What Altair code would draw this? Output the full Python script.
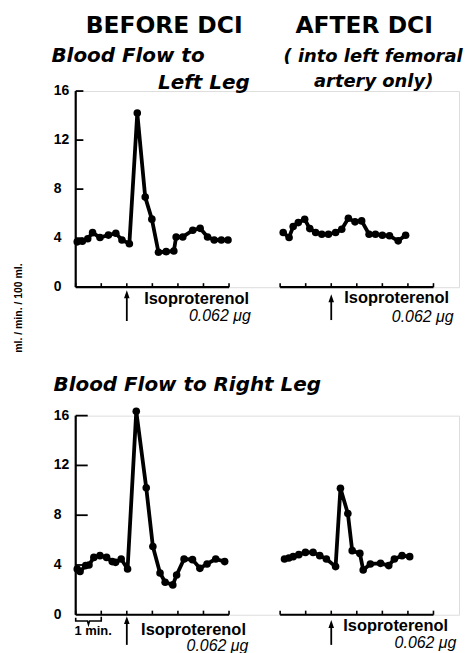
import altair as alt
import pandas as pd

# ---------------- data ----------------
# time in minutes from the start of each 6-minute record; flow in ml/min/100 ml
before_left_t = [0.06, 0.26, 0.47, 0.66, 0.95, 1.28, 1.57, 1.81, 2.10, 2.41, 2.72, 2.98,
                 3.24, 3.54, 3.84, 3.93, 4.19, 4.58, 4.87, 5.16, 5.42, 5.70, 5.96]
before_left_v = [3.70, 3.75, 3.95, 4.45, 4.05, 4.25, 4.40, 3.85, 3.55, 14.2, 7.35, 5.55,
                 2.85, 2.90, 2.95, 4.10, 4.10, 4.65, 4.80, 4.10, 3.85, 3.85, 3.85]
after_left_t = [0.12, 0.35, 0.51, 0.71, 0.96, 1.16, 1.39, 1.63, 1.89, 2.17, 2.41, 2.67,
                2.93, 3.19, 3.48, 3.73, 4.00, 4.28, 4.62, 4.91]
after_left_v = [4.46, 4.06, 4.95, 5.27, 5.54, 4.78, 4.46, 4.32, 4.32, 4.46, 4.73, 5.62,
                5.33, 5.41, 4.32, 4.32, 4.24, 4.19, 3.78, 4.24]
before_right_t = [0.06, 0.17, 0.39, 0.52, 0.71, 0.95, 1.21, 1.43, 1.56, 1.78, 2.03, 2.37,
                  2.76, 3.02, 3.30, 3.50, 3.80, 3.95, 4.24, 4.57, 4.86, 5.14, 5.48, 5.83]
before_right_v = [3.68, 3.47, 3.95, 4.00, 4.61, 4.75, 4.61, 4.27, 4.21, 4.48, 3.68, 16.35,
                  10.21, 5.49, 3.36, 2.61, 2.40, 3.20, 4.48, 4.43, 3.73, 4.08, 4.48, 4.27]
after_right_t = [0.17, 0.34, 0.51, 0.73, 0.99, 1.29, 1.55, 1.81, 2.17, 2.36, 2.65, 2.82,
                 3.12, 3.25, 3.53, 3.93, 4.25, 4.47, 4.77, 5.07]
after_right_v = [4.48, 4.56, 4.67, 4.83, 5.01, 5.01, 4.75, 4.48, 3.87, 10.16, 8.13, 5.15,
                 4.93, 3.60, 4.08, 4.13, 3.95, 4.48, 4.75, 4.67]

minute_ticks = [0, 1, 2, 3, 4, 5, 6]
y_tick_values = [0, 4, 8, 12, 16]
y_inner_ticks = [4, 8, 12, 16]
injection_minute = 2
y_title = "ml. / min. / 100 ml."
dose_label = "0.062 \u03bcg"
drug_label = "Isoproterenol"

# ---------------- layout constants ----------------
AFTER_OFFSET = 8          # the "after" record sits 8 min to the right on a shared x scale
X_DOMAIN = [0, 15]
W = 385
H_TOP = 197
H_BOT = 200
BOLD = "Liberation Sans"
HEAD = "DejaVu Sans"


def xq(field):
    return alt.X(field, type="quantitative",
                 scale=alt.Scale(domain=X_DOMAIN, nice=False, zero=False), axis=None)


def yq(field):
    return alt.Y(field, type="quantitative",
                 scale=alt.Scale(domain=[0, 16], nice=False, zero=False), axis=None)


def text_layer(rows, size, align, font=BOLD, weight="bold", style="normal", angle=0):
    df = pd.DataFrame(rows, columns=["x", "y", "label"])
    mk = dict(font=font, fontSize=size, fontWeight=weight, fontStyle=style,
              align=align, baseline="middle", color="black")
    if angle:
        mk["angle"] = angle
    return alt.Chart(df).mark_text(**mk).encode(x=xq("x"), y=yq("y"), text="label:N")


def make_row(bt, bv, at, av, height, ytick_len, xtick_len, label_x, arrows, texts):
    df = pd.DataFrame({
        "t": list(bt) + [t + AFTER_OFFSET for t in at],
        "v": list(bv) + list(av),
        "rec": ["before"] * len(bt) + ["after"] * len(at),
    })
    line = alt.Chart(df).mark_line(color="black", strokeWidth=3.8, strokeJoin="round").encode(
        x=xq("t"), y=yq("v"), detail="rec:N")
    pts = alt.Chart(df).mark_circle(color="black", size=58, opacity=1).encode(
        x=xq("t"), y=yq("v"))

    # y axis line (0..16) and x base lines of both records
    axis_df = pd.DataFrame({"x0": [0, 0, AFTER_OFFSET], "x1": [0, 6, 6 + AFTER_OFFSET],
                            "y0": [0, 0, 0], "y1": [16, 0, 0]})
    axes = alt.Chart(axis_df).mark_rule(color="black", strokeWidth=2.2).encode(
        x=xq("x0"), x2="x1", y=yq("y0"), y2="y1")

    tick_df = pd.DataFrame({
        "t": minute_ticks + [m + AFTER_OFFSET for m in minute_ticks],
        "y0": [0] * 14, "y1": [xtick_len] * 14})
    xt = alt.Chart(tick_df).mark_rule(color="black", strokeWidth=1.6).encode(
        x=xq("t"), y=yq("y0"), y2="y1")

    ytk_df = pd.DataFrame({"v": y_inner_ticks, "x0": [0] * 4, "x1": [ytick_len] * 4})
    yt = alt.Chart(ytk_df).mark_rule(color="black", strokeWidth=1.8).encode(
        x=xq("x0"), x2="x1", y=yq("v"))

    lab_df = pd.DataFrame({"v": y_tick_values, "x": [label_x] * len(y_tick_values),
                           "label": [str(v) for v in y_tick_values]})
    ylab = alt.Chart(lab_df).mark_text(font=BOLD, fontSize=14, fontWeight="bold",
                                       align="left", baseline="middle", color="black").encode(
        x=xq("x"), y=yq("v"), text="label:N")

    arr_df = pd.DataFrame(arrows, columns=["t", "tip", "bot"])
    arr_df["shaft"] = arr_df["tip"] - 0.4
    arr_df["head"] = arr_df["tip"] - 0.33
    shaft = alt.Chart(arr_df).mark_rule(color="black", strokeWidth=1.8).encode(
        x=xq("t"), y=yq("shaft"), y2="bot")
    head = alt.Chart(arr_df).mark_point(
        shape="M-0.7,1L0,-1L0.7,1Z", filled=True, color="black", opacity=1, size=64
    ).encode(x=xq("t"), y=yq("head"))

    layers = [axes, xt, yt, ylab, line, pts, shaft, head] + texts
    return alt.layer(*layers).properties(width=W, height=height)


# ---------------- top row ----------------
top_texts = [
    text_layer([(3.46, 21.32, "BEFORE DCI"), (11.29, 21.32, "AFTER DCI")], 23.5, "center", font=HEAD),
    text_layer([(-0.95, 18.84, "Blood Flow to")], 20, "left", font=HEAD, style="italic"),
    text_layer([(8.13, 18.8, "( into left femoral")], 18, "left", font=HEAD, style="italic"),
    text_layer([(6.81, 16.65, "Left Leg")], 20, "right", font=HEAD, style="italic"),
    text_layer([(11.66, 16.7, "artery only)")], 18, "center", font=HEAD, style="italic"),
    text_layer([(2.68, -0.98, drug_label), (10.51, -0.92, drug_label)], 16.5, "left"),
    text_layer([(6.85, -2.32, dose_label), (14.79, -2.46, dose_label)], 16, "right",
               weight="normal", style="italic"),
    text_layer([(-2.23, -1.7, y_title)], 10.5, "center", angle=270),
]
top = make_row(before_left_t, before_left_v, after_left_t, after_left_v, H_TOP,
               ytick_len=0.3, xtick_len=0.33, label_x=-0.86,
               arrows=[(injection_minute, -0.24, -2.76),
                       (injection_minute + AFTER_OFFSET, -0.57, -2.68)],
               texts=top_texts)

# ---------------- bottom row ----------------
bracket_df = pd.DataFrame({
    "x": [0, 0, 0.46, 0.5, 0.54, 1.0, 1.0],
    "y": [-0.25, -0.5, -0.5, -0.78, -0.5, -0.5, -0.15],
    "o": list(range(7))})
bracket = alt.Chart(bracket_df).mark_line(color="black", strokeWidth=1.6).encode(
    x=xq("x"), y=yq("y"), order="o:Q")

bot_texts = [
    text_layer([(-0.87, 18.46, "Blood Flow to Right Leg")], 20, "left", font=HEAD, style="italic"),
    text_layer([(2.56, -1.2, drug_label), (10.47, -0.9, drug_label)], 16.5, "left"),
    text_layer([(6.76, -2.5, dose_label), (14.9, -2.28, dose_label)], 16, "right",
               weight="normal", style="italic"),
    text_layer([(-0.05, -1.3, "1 min.")], 13, "left"),
    bracket,
]
bottom = make_row(before_right_t, before_right_v, after_right_t, after_right_v, H_BOT,
                  ytick_len=0.47, xtick_len=0.33, label_x=-0.86,
                  arrows=[(injection_minute, -0.1, -2.42),
                          (injection_minute + AFTER_OFFSET, -0.42, -2.42)],
                  texts=bot_texts)

chart = alt.vconcat(top, bottom, spacing=129, bounds="flush",
                    padding={"left": 5, "right": 0, "top": 3, "bottom": 0}
                    ).configure_view(stroke=None).configure(background="white")

chart.save("out.html", embed_options={"renderer": "svg", "actions": False})
